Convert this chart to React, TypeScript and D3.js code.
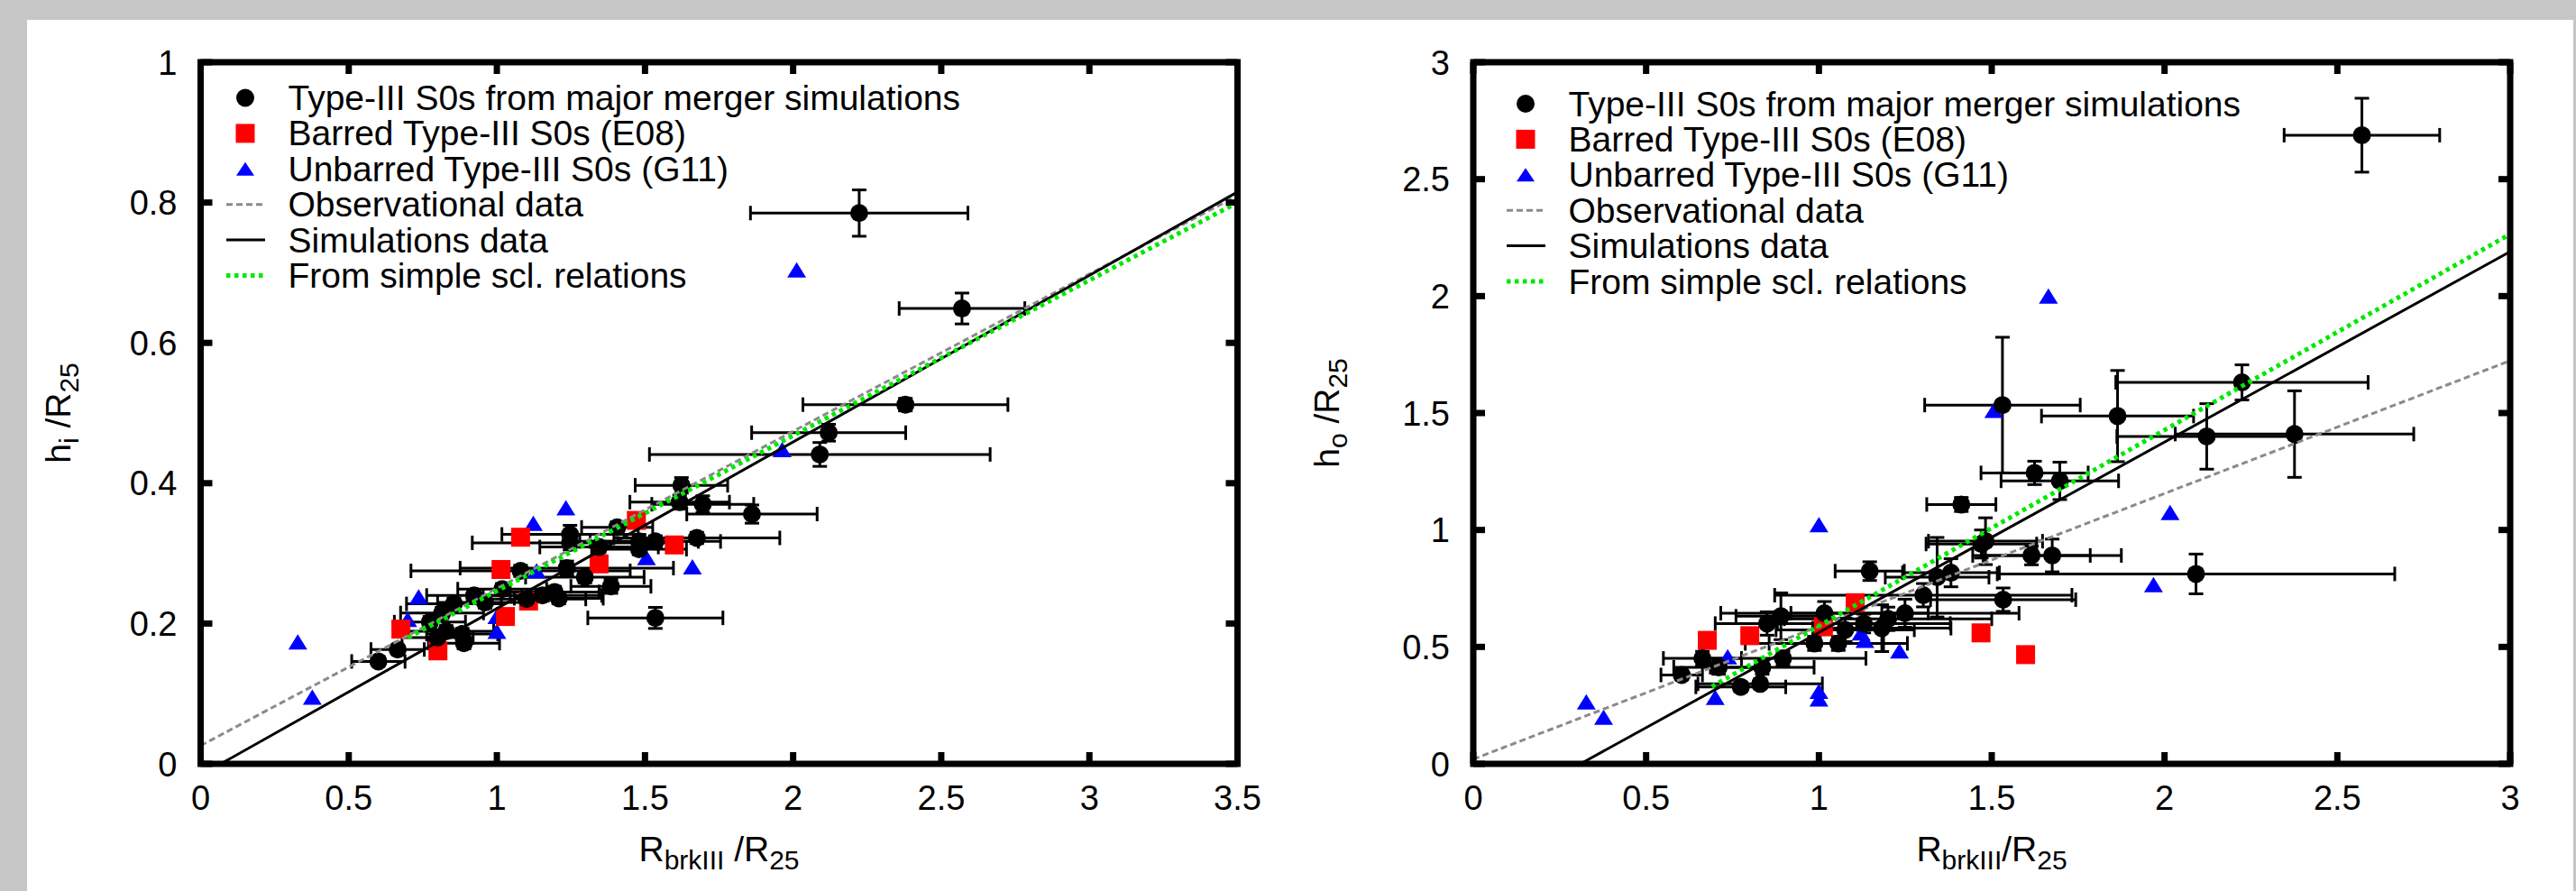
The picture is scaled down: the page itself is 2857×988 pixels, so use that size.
import React, { useEffect } from 'react';
import * as d3 from 'd3';

const W = 2857;
const H = 988;

// ---------- Left panel data (h_i / R25 vs R_brkIII / R25) ----------
const leftTicksX = [0, 0.5, 1, 1.5, 2, 2.5, 3, 3.5];
const leftTicksY = [0, 0.2, 0.4, 0.6, 0.8, 1];

const leftSimX = [2.223, 2.57, 2.379, 2.12, 2.09, 1.623, 1.617, 1.695, 1.861, 1.675, 1.247, 1.247, 1.406, 1.48, 1.535, 1.48, 1.345, 1.08, 1.236, 1.297, 1.385, 1.195, 1.154, 1.209, 1.018, 0.923, 0.855, 0.815, 0.774, 0.829, 0.883, 0.889, 0.80, 0.665, 0.60, 1.535, 1.10, 0.96];
const leftSimY = [0.785, 0.649, 0.512, 0.472, 0.441, 0.397, 0.373, 0.370, 0.356, 0.322, 0.327, 0.315, 0.337, 0.317, 0.317, 0.306, 0.309, 0.275, 0.279, 0.266, 0.253, 0.245, 0.240, 0.236, 0.249, 0.240, 0.228, 0.215, 0.202, 0.189, 0.185, 0.172, 0.180, 0.163, 0.146, 0.208, 0.235, 0.230];
const leftSimXErr = [0.367, 0.212, 0.346, 0.26, 0.575, 0.156, 0.168, 0.172, 0.22, 0.28, 0.23, 0.33, 0.12, 0.2, 0.22, 0.16, 0.2, 0.37, 0.36, 0.2, 0.135, 0.15, 0.2, 0.15, 0.15, 0.16, 0.16, 0.14, 0.12, 0.16, 0.12, 0.12, 0.12, 0.09, 0.09, 0.228, 0.2, 0.16];
const leftSimYErr = [0.033, 0.022, 0.009, 0.012, 0.017, 0.011, 0.01, 0.012, 0.013, 0.008, 0.013, 0.01, 0.008, 0.01, 0.008, 0.008, 0.008, 0.008, 0.01, 0.008, 0.01, 0.008, 0.008, 0.008, 0.008, 0.008, 0.008, 0.008, 0.008, 0.008, 0.008, 0.008, 0.008, 0.006, 0.006, 0.015, 0.008, 0.008];

const leftBarredX = [0.676, 0.801, 1.014, 1.08, 1.029, 1.107, 1.345, 1.471, 1.599];
const leftBarredY = [0.192, 0.161, 0.277, 0.323, 0.21, 0.232, 0.285, 0.347, 0.312];

const leftUnbarredX = [0.328, 0.377, 0.736, 0.699, 1.0, 1.0, 1.123, 1.233, 1.505, 1.66, 1.134, 1.963, 2.012];
const leftUnbarredY = [0.174, 0.095, 0.238, 0.206, 0.21, 0.189, 0.343, 0.365, 0.294, 0.281, 0.275, 0.448, 0.704];

const leftObsLineX = [0, 3.5];
const leftObsLineY = [0.026, 0.81];
const leftSimLineX = [0.068, 3.5];
const leftSimLineY = [0, 0.815];
const leftSclLineX = [0.7, 3.5];
const leftSclLineY = [0.18, 0.80];

// ---------- Right panel data (h_o / R25 vs R_brkIII / R25) ----------
const rightTicksX = [0, 0.5, 1, 1.5, 2, 2.5, 3];
const rightTicksY = [0, 0.5, 1, 1.5, 2, 2.5, 3];

const rightSimX = [2.571, 2.224, 1.531, 1.864, 2.122, 2.376, 1.624, 1.697, 1.412, 1.482, 1.47, 1.615, 1.675, 2.091, 1.147, 1.342, 1.382, 1.302, 1.533, 1.016, 0.89, 0.85, 1.076, 1.182, 1.249, 0.987, 1.056, 0.663, 0.896, 0.71, 0.836, 0.603, 0.774, 0.83, 1.2, 1.13];
const rightSimY = [2.688, 1.631, 1.534, 1.487, 1.40, 1.41, 1.244, 1.21, 1.109, 0.952, 0.94, 0.891, 0.891, 0.812, 0.824, 0.798, 0.817, 0.721, 0.702, 0.644, 0.631, 0.60, 0.573, 0.58, 0.644, 0.515, 0.515, 0.451, 0.451, 0.413, 0.413, 0.38, 0.329, 0.342, 0.62, 0.60];
const rightSimXErr = [0.225, 0.365, 0.225, 0.22, 0.26, 0.345, 0.155, 0.17, 0.1, 0.165, 0.16, 0.17, 0.2, 0.575, 0.1, 0.15, 0.14, 0.43, 0.21, 0.3, 0.13, 0.15, 0.2, 0.2, 0.33, 0.2, 0.2, 0.113, 0.24, 0.13, 0.15, 0.06, 0.13, 0.18, 0.3, 0.25];
const rightSimYErr = [0.158, 0.075, 0.29, 0.195, 0.14, 0.185, 0.05, 0.08, 0.03, 0.1, 0.06, 0.04, 0.07, 0.085, 0.04, 0.17, 0.06, 0.05, 0.05, 0.05, 0.1, 0.05, 0.05, 0.1, 0.06, 0.03, 0.03, 0.03, 0.03, 0.03, 0.03, 0.02, 0.02, 0.02, 0.05, 0.04];

const rightBarredX = [0.677, 0.8, 1.013, 1.105, 1.469, 1.598];
const rightBarredY = [0.528, 0.548, 0.586, 0.689, 0.56, 0.467];

const rightUnbarredX = [0.327, 0.377, 0.7, 0.736, 1.0, 1.0, 1.0, 1.122, 1.133, 1.233, 1.506, 1.968, 1.664, 2.016];
const rightUnbarredY = [0.265, 0.2, 0.284, 0.458, 1.023, 0.31, 0.278, 0.56, 0.528, 0.483, 1.512, 0.766, 2.0, 1.075];

const rightObsLineX = [0, 3];
const rightObsLineY = [0.02, 1.724];
const rightSimLineX = [0.31, 3];
const rightSimLineY = [0, 2.19];
const rightSclLineX = [0.69, 3];
const rightSclLineY = [0.33, 2.265];

const legendLabels = [
  'Type-III S0s from major merger simulations',
  'Barred Type-III S0s (E08)',
  'Unbarred Type-III S0s (G11)',
  'Observational data',
  'Simulations data',
  'From simple scl. relations',
];

const FONT = '"Liberation Sans", Arial, Helvetica, sans-serif';
const GRAY = '#8a8a8a';
const GREEN = '#00e800';
const RED = '#ff0000';
const BLUE = '#0000ff';

const triPath = (cx: number, cy: number, w = 21, h = 17) =>
  `M${cx - w / 2},${cy + h / 2}L${cx + w / 2},${cy + h / 2}L${cx},${cy - h / 2}Z`;

type PanelProps = {
  x0: number; x1: number; y0: number; y1: number;
  xDomain: [number, number]; yDomain: [number, number];
  ticksX: number[]; ticksY: number[];
  simX: number[]; simY: number[]; simXErr: number[]; simYErr: number[];
  barX: number[]; barY: number[];
  unbX: number[]; unbY: number[];
  obsX: number[]; obsY: number[];
  simLX: number[]; simLY: number[];
  sclX: number[]; sclY: number[];
  legendX: number; legendY: number;
  yTitleX: number; ySub: string; xTitleSpace: boolean;
};

function Panel(p: PanelProps) {
  const xs = d3.scaleLinear().domain(p.xDomain).range([p.x0, p.x1]);
  const ys = d3.scaleLinear().domain(p.yDomain).range([p.y0, p.y1]);
  const line = d3.line<[number, number]>().x(d => xs(d[0])).y(d => ys(d[1]));
  const mk = (X: number[], Y: number[]) => X.map((v, i) => [v, Y[i]] as [number, number]);
  const tickLen = 13;
  const cap = 8;
  const cx = (p.x0 + p.x1) / 2;
  const cy = (p.y0 + p.y1) / 2;
  const lgSpacing = 39.4;
  return (
    <g>
      <g stroke="#000" strokeWidth={3} fill="none">
        {p.simX.map((v, i) => {
          const px = xs(v), py = ys(p.simY[i]);
          const xl = xs(v - p.simXErr[i]), xr = xs(v + p.simXErr[i]);
          const yt = ys(p.simY[i] + p.simYErr[i]), yb = ys(p.simY[i] - p.simYErr[i]);
          return (
            <g key={i}>
              <line x1={xl} x2={xr} y1={py} y2={py} />
              <line x1={xl} x2={xl} y1={py - cap} y2={py + cap} />
              <line x1={xr} x2={xr} y1={py - cap} y2={py + cap} />
              <line x1={px} x2={px} y1={yt} y2={yb} />
              <line x1={px - cap} x2={px + cap} y1={yt} y2={yt} />
              <line x1={px - cap} x2={px + cap} y1={yb} y2={yb} />
            </g>
          );
        })}
      </g>
      {p.unbX.map((v, i) => (
        <path key={'u' + i} d={triPath(xs(v), ys(p.unbY[i]))} fill={BLUE} />
      ))}
      {p.barX.map((v, i) => (
        <rect key={'b' + i} x={xs(v) - 10.5} y={ys(p.barY[i]) - 10.5} width={21} height={21} fill={RED} />
      ))}
      {p.simX.map((v, i) => (
        <circle key={'s' + i} cx={xs(v)} cy={ys(p.simY[i])} r={10} fill="#000" />
      ))}
      <path d={line(mk(p.obsX, p.obsY)) || ''} stroke={GRAY} strokeWidth={3} strokeDasharray="7,4" fill="none" />
      <path d={line(mk(p.simLX, p.simLY)) || ''} stroke="#000" strokeWidth={3} fill="none" />
      <path d={line(mk(p.sclX, p.sclY)) || ''} stroke={GREEN} strokeWidth={5} strokeDasharray="4.5,4.5" fill="none" />

      <rect x={p.x0} y={p.y1} width={p.x1 - p.x0} height={p.y0 - p.y1} fill="none" stroke="#000" strokeWidth={7} />
      <g stroke="#000" strokeWidth={7}>
        {p.ticksX.map((t, i) => (
          <g key={'tx' + i}>
            <line x1={xs(t)} x2={xs(t)} y1={p.y0} y2={p.y0 - tickLen} />
            <line x1={xs(t)} x2={xs(t)} y1={p.y1} y2={p.y1 + tickLen} />
          </g>
        ))}
        {p.ticksY.map((t, i) => (
          <g key={'ty' + i}>
            <line x1={p.x0} x2={p.x0 + tickLen} y1={ys(t)} y2={ys(t)} />
            <line x1={p.x1} x2={p.x1 - tickLen} y1={ys(t)} y2={ys(t)} />
          </g>
        ))}
      </g>
      <g fontFamily={FONT} fontSize={38} fill="#000">
        {p.ticksX.map((t, i) => (
          <text key={'lx' + i} x={xs(t)} y={898} textAnchor="middle">{String(t)}</text>
        ))}
        {p.ticksY.map((t, i) => (
          <text key={'ly' + i} x={p.x0 - 26} y={ys(t) + 13.5} textAnchor="end">{String(t)}</text>
        ))}
      </g>
      <text x={cx} y={955} textAnchor="middle" fontFamily={FONT} fontSize={39} fill="#000">
        <tspan>R</tspan>
        <tspan fontSize={30} dy={9}>brkIII</tspan>
        <tspan dy={-9}>{p.xTitleSpace ? ' /R' : '/R'}</tspan>
        <tspan fontSize={30} dy={9}>25</tspan>
      </text>
      <text transform={`translate(${p.yTitleX},${cy}) rotate(-90)`} textAnchor="middle" fontFamily={FONT} fontSize={39} fill="#000">
        <tspan>h</tspan>
        <tspan fontSize={30} dy={9}>{p.ySub}</tspan>
        <tspan dy={-9}> /R</tspan>
        <tspan fontSize={30} dy={9}>25</tspan>
      </text>
      <g fontFamily={FONT} fontSize={39} fill="#000">
        {legendLabels.map((lab, i) => {
          const ly = p.legendY + i * lgSpacing;
          const sx = p.legendX;
          let sym: React.ReactNode = null;
          if (i === 0) sym = <circle cx={sx} cy={ly} r={10} fill="#000" />;
          else if (i === 1) sym = <rect x={sx - 10.5} y={ly - 10.5} width={21} height={21} fill={RED} />;
          else if (i === 2) sym = <path d={triPath(sx, ly, 20, 15)} fill={BLUE} />;
          else if (i === 3) sym = <line x1={sx - 21} x2={sx + 22} y1={ly} y2={ly} stroke={GRAY} strokeWidth={3} strokeDasharray="7,4" />;
          else if (i === 4) sym = <line x1={sx - 21} x2={sx + 22} y1={ly} y2={ly} stroke="#000" strokeWidth={3} />;
          else sym = <line x1={sx - 21} x2={sx + 22} y1={ly} y2={ly} stroke={GREEN} strokeWidth={5} strokeDasharray="4.5,4.5" />;
          return (
            <g key={'lg' + i}>
              {sym}
              <text x={sx + 47.5} y={ly + 13.5}>{lab}</text>
            </g>
          );
        })}
      </g>
    </g>
  );
}

export default function App() {
  useEffect(() => {
    document.body.style.margin = '0';
    document.body.style.overflow = 'hidden';
  }, []);
  return (
    <svg width={W} height={H} viewBox={`0 0 ${W} ${H}`} style={{ position: 'absolute', left: 0, top: 0, display: 'block' }}>
      <rect x={0} y={0} width={W} height={H} fill="#c5c6c5" />
      <rect x={30} y={22} width={2854 - 30} height={H - 22} fill="#ffffff" />
      <Panel
        x0={222.5} x1={1372.5} y0={847} y1={69}
        xDomain={[0, 3.5]} yDomain={[0, 1]}
        ticksX={leftTicksX} ticksY={leftTicksY}
        simX={leftSimX} simY={leftSimY} simXErr={leftSimXErr} simYErr={leftSimYErr}
        barX={leftBarredX} barY={leftBarredY}
        unbX={leftUnbarredX} unbY={leftUnbarredY}
        obsX={leftObsLineX} obsY={leftObsLineY}
        simLX={leftSimLineX} simLY={leftSimLineY}
        sclX={leftSclLineX} sclY={leftSclLineY}
        legendX={272} legendY={108.5}
        yTitleX={78} ySub="i" xTitleSpace={true}
      />
      <Panel
        x0={1634} x1={2784} y0={847} y1={69}
        xDomain={[0, 3]} yDomain={[0, 3]}
        ticksX={rightTicksX} ticksY={rightTicksY}
        simX={rightSimX} simY={rightSimY} simXErr={rightSimXErr} simYErr={rightSimYErr}
        barX={rightBarredX} barY={rightBarredY}
        unbX={rightUnbarredX} unbY={rightUnbarredY}
        obsX={rightObsLineX} obsY={rightObsLineY}
        simLX={rightSimLineX} simLY={rightSimLineY}
        sclX={rightSclLineX} sclY={rightSclLineY}
        legendX={1692} legendY={115}
        yTitleX={1485} ySub="o" xTitleSpace={false}
      />
    </svg>
  );
}
